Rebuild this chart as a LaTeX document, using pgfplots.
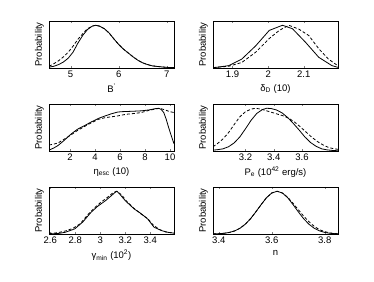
\documentclass[border=0pt]{standalone}
\usepackage{fontspec}
\setmainfont{Liberation Sans}
\usepackage{pgfplots}
\pgfplotsset{compat=1.18}
\pgfplotsset{panel/.style={
  scale only axis, width=125pt, height=47pt,
  ymin=0, ymax=1.1, ytick=\empty,
  ylabel={Probability},
  ylabel style={at={(axis description cs:-0.04,0.5)}, anchor=south, inner sep=0pt},
  xlabel style={at={(axis description cs:0.5,0)}, anchor=north, yshift=-16pt, inner sep=0pt},
  tick align=inside, major tick length=2pt,
  /pgf/number format/assume math mode=true,
  tick label style={font=\fontsize{9.5}{10}\selectfont},
  label style={font=\fontsize{9.5}{10}\selectfont},
  axis line style={line width=0.5pt},
  xticklabel style={yshift=1pt},
}}
\tikzset{sol/.style={black, line width=0.8pt}, das/.style={black, line width=0.8pt, dash pattern=on 3pt off 2pt}}
\begin{document}
\begin{tikzpicture}[x=1pt,y=1pt]
\path[use as bounding box] (0,0) rectangle (374,281);
% Panel 1
\begin{axis}[panel, at={(49pt,213pt)}, anchor=south west, xmin=4.55, xmax=7.15, xtick={5,6,7}, xlabel={B\textsuperscript{'}}]
\addplot[sol] coordinates {(4.55,0.02)(4.65,0.04)(4.75,0.08)(4.85,0.14)(4.95,0.23)(5.05,0.37)(5.15,0.58)(5.25,0.76)(5.35,0.90)(5.45,0.98)(5.52,1.0)(5.6,0.98)(5.7,0.92)(5.8,0.82)(5.9,0.68)(6.0,0.55)(6.1,0.44)(6.2,0.35)(6.3,0.26)(6.4,0.18)(6.5,0.12)(6.6,0.08)(6.7,0.05)(6.85,0.03)(7.0,0.015)(7.15,0.008)};
\addplot[das] coordinates {(4.55,0.04)(4.65,0.10)(4.75,0.17)(4.85,0.26)(4.95,0.37)(5.05,0.51)(5.15,0.67)(5.25,0.80)(5.35,0.92)(5.45,0.98)(5.52,1.0)(5.6,0.98)(5.7,0.92)(5.8,0.82)(5.9,0.68)(6.0,0.55)(6.1,0.44)(6.2,0.35)(6.3,0.26)(6.4,0.18)(6.5,0.12)(6.6,0.08)(6.7,0.05)(6.85,0.03)(7.0,0.015)(7.15,0.008)};
\end{axis}
% Panel 2
\begin{axis}[panel, at={(213pt,213pt)}, anchor=south west, xmin=1.845, xmax=2.196, xtick={1.9,2,2.1}, xlabel={δ\textsubscript{D} (10)}]
\addplot[sol] coordinates {(1.845,0.01)(1.852,0.012)(1.889,0.055)(1.926,0.21)(1.965,0.52)(2.003,0.88)(2.04,1.0)(2.068,0.92)(2.105,0.60)(2.142,0.25)(2.179,0.055)(2.196,0.015)};
\addplot[das] coordinates {(1.845,0.01)(1.889,0.04)(1.926,0.13)(1.965,0.37)(2.003,0.69)(2.031,0.88)(2.058,1.0)(2.086,0.91)(2.114,0.76)(2.142,0.45)(2.169,0.21)(2.196,0.05)};
\end{axis}
% Panel 3
\begin{axis}[panel, at={(49pt,130pt)}, anchor=south west, xmin=0.32, xmax=10.32, xtick={2,4,6,8,10}, xlabel={η\textsubscript{esc} (10)}]
\addplot[sol] coordinates {(0.32,0.02)(0.7,0.07)(1.05,0.13)(1.5,0.24)(2.1,0.40)(2.6,0.51)(3.2,0.60)(3.7,0.68)(4.25,0.76)(4.8,0.82)(5.3,0.87)(5.8,0.91)(6.1,0.92)(7.0,0.93)(7.7,0.94)(8.3,0.96)(8.8,0.99)(9.1,1.0)(9.3,0.97)(9.5,0.90)(9.7,0.74)(9.9,0.54)(10.1,0.36)(10.32,0.17)};
\addplot[das] coordinates {(0.32,0.14)(0.7,0.16)(1.05,0.19)(1.5,0.27)(2.1,0.38)(2.6,0.48)(3.2,0.58)(3.7,0.66)(4.25,0.74)(4.8,0.78)(5.3,0.80)(5.8,0.82)(6.5,0.86)(7.2,0.88)(7.7,0.90)(8.3,0.95)(8.8,0.98)(9.2,1.0)(9.6,0.96)(10.0,0.92)(10.32,0.90)};
\end{axis}
% Panel 4
\begin{axis}[panel, at={(213pt,130pt)}, anchor=south west, xmin=2.97, xmax=3.855, xtick={3.2,3.4,3.6}, xlabel={P\textsubscript{e} (10\textsuperscript{42} erg/s)}]
\addplot[sol] coordinates {(2.97,0.02)(3.00,0.03)(3.04,0.05)(3.08,0.10)(3.12,0.19)(3.16,0.33)(3.20,0.52)(3.24,0.72)(3.28,0.88)(3.32,0.97)(3.35,1.0)(3.38,0.995)(3.42,0.96)(3.46,0.89)(3.50,0.78)(3.54,0.64)(3.58,0.49)(3.62,0.33)(3.66,0.20)(3.70,0.11)(3.74,0.05)(3.78,0.025)(3.82,0.012)(3.855,0.006)};
\addplot[das] coordinates {(2.97,0.10)(3.00,0.17)(3.04,0.28)(3.08,0.43)(3.12,0.62)(3.16,0.80)(3.20,0.92)(3.24,0.98)(3.27,1.0)(3.31,0.98)(3.35,0.94)(3.39,0.90)(3.43,0.86)(3.47,0.82)(3.51,0.76)(3.55,0.67)(3.59,0.56)(3.63,0.44)(3.67,0.32)(3.71,0.22)(3.75,0.14)(3.79,0.08)(3.83,0.05)(3.855,0.04)};
\end{axis}
% Panel 5
\begin{axis}[panel, at={(49pt,47pt)}, anchor=south west, xmin=2.59, xmax=3.59, xtick={2.6,2.8,3,3.2,3.4}, xlabel={γ\textsubscript{min} (10\textsuperscript{2})}]
\addplot[sol] coordinates {(2.59,0.005)(2.66,0.01)(2.72,0.04)(2.796,0.12)(2.86,0.28)(2.927,0.51)(2.98,0.65)(3.042,0.78)(3.09,0.90)(3.121,0.98)(3.134,1.0)(3.16,0.92)(3.20,0.78)(3.27,0.59)(3.33,0.47)(3.38,0.35)(3.43,0.16)(3.49,0.08)(3.54,0.04)(3.59,0.02)};
\addplot[das] coordinates {(2.59,0.01)(2.66,0.03)(2.72,0.07)(2.78,0.13)(2.84,0.24)(2.90,0.45)(2.95,0.60)(3.00,0.73)(3.05,0.84)(3.10,0.96)(3.13,1.0)(3.17,0.92)(3.21,0.77)(3.27,0.60)(3.33,0.46)(3.38,0.36)(3.42,0.22)(3.47,0.11)(3.52,0.05)(3.59,0.02)};
\end{axis}
% Panel 6
\begin{axis}[panel, at={(213pt,47pt)}, anchor=south west, xmin=3.378, xmax=3.85, xtick={3.4,3.6,3.8}, xlabel={n}]
\addplot[sol] coordinates {(3.378,0.003)(3.40,0.007)(3.42,0.017)(3.44,0.037)(3.46,0.073)(3.48,0.135)(3.50,0.23)(3.52,0.36)(3.54,0.52)(3.56,0.69)(3.58,0.85)(3.60,0.96)(3.62,1.0)(3.64,0.96)(3.66,0.85)(3.68,0.69)(3.70,0.52)(3.72,0.36)(3.74,0.23)(3.76,0.135)(3.78,0.073)(3.80,0.037)(3.82,0.017)(3.84,0.007)(3.85,0.004)};
\addplot[das] coordinates {(3.378,0.003)(3.40,0.007)(3.42,0.017)(3.44,0.037)(3.46,0.073)(3.48,0.135)(3.50,0.23)(3.52,0.36)(3.54,0.52)(3.56,0.69)(3.58,0.85)(3.60,0.96)(3.62,1.0)(3.64,0.96)(3.66,0.86)(3.68,0.72)(3.70,0.57)(3.72,0.42)(3.74,0.29)(3.76,0.18)(3.78,0.10)(3.80,0.055)(3.82,0.025)(3.84,0.01)(3.85,0.006)};
\end{axis}
\end{tikzpicture}
\end{document}
